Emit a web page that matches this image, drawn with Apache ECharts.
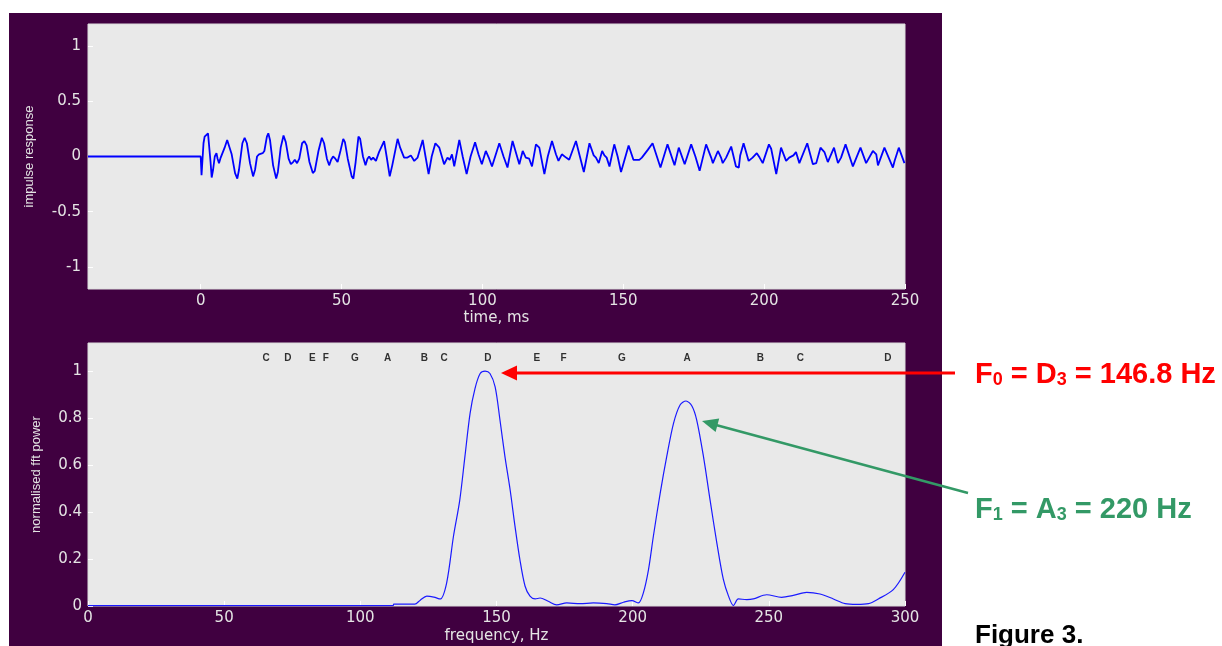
<!DOCTYPE html>
<html>
<head>
<meta charset="utf-8">
<script src="https://cdn.jsdelivr.net/npm/echarts@6/dist/echarts.min.js"></script>
<style>
  html, body { margin: 0; padding: 0; background: #ffffff; }
  #bg { position: absolute; left: 9px; top: 13px; width: 933px; height: 633px; background: #400040; }
  #chart { position: absolute; left: 0; top: 0; width: 1222px; height: 646px; }
</style>
</head>
<body>
<div id="bg"></div>
<div id="chart"></div>
<script>
// ---- Top panel: impulse response (time in ms) ----
const timeMs = [
  -40, 0, 0.3, 0.5, 1.0, 1.4, 2.0, 2.6, 3.0, 3.5,
  3.9, 4.4, 5.0, 5.6, 6.0, 6.5, 7.1, 7.5, 8.5, 9.4,
  9.9, 11.0, 12.2, 13.0, 13.6, 14.8, 15.6, 16.4, 17.5, 18.6,
  19.3, 20.0, 20.7, 21.3, 22.0, 22.6, 23.5, 24.0, 24.6, 25.7,
  26.8, 27.4, 28.4, 29.4, 30.2, 31.2, 32.0, 32.8, 33.4, 34.2,
  35.0, 36.0, 36.8, 37.6, 38.6, 39.8, 40.5, 41.8, 43.0, 43.8,
  44.8, 45.6, 46.3, 47.0, 47.8, 48.6, 49.6, 50.6, 51.2, 52.2,
  53.6, 54.2, 55.0, 56.0, 56.6, 57.6, 58.5, 59.2, 59.8, 60.5,
  61.2, 62.2, 63.3, 65.1, 66.0, 67.1, 68.0, 69.9, 70.8, 72.2,
  73.4, 74.6, 75.8, 77.0, 78.8, 79.8, 80.9, 82.0, 83.3, 84.7,
  86.4, 87.6, 88.4, 89.2, 90.0, 91.8, 93.0, 94.4, 95.8, 97.4,
  98.6, 99.8, 101.2, 102.4, 103.4, 106.0, 107.5, 108.9, 110.7, 113.1,
  114.3, 115.4, 116.6, 117.6, 119.0, 120.2, 122.0, 123.2, 124.7, 126.1,
  127.0, 128.2, 129.7, 130.8, 133.2, 134.6, 136.0, 138.0, 139.5, 140.3,
  141.3, 142.5, 143.3, 144.1, 145.1, 146.8, 148.0, 149.2, 151.9, 153.6,
  155.7, 156.6, 158.7, 160.4, 163.2, 165.7, 168.2, 169.7, 171.8, 174.1,
  175.6, 177.1, 179.4, 181.2, 181.8, 183.6, 184.7, 185.3, 186.5, 188.3,
  190.0, 191.0, 191.5, 192.7, 194.5, 195.9, 197.4, 198.4, 199.5, 201.7,
  202.5, 204.3, 206.0, 207.8, 208.9, 210.4, 211.3, 212.5, 215.3, 217.3,
  218.5, 220.0, 221.4, 222.6, 224.8, 226.2, 227.3, 228.9, 231.5, 234.2,
  236.2, 238.6, 239.8, 240.4, 242.7, 245.7, 246.3, 247.8, 249.8, 250.0
];
const impulse = [
  0, 0, -0.17, -0.17, 0.12, 0.18, 0.19, 0.21, 0.2, -0.05,
  -0.19, -0.12, 0.0, 0.03, -0.02, -0.06, -0.01, -0.02, 0.08, 0.15,
  0.14, 0.02, -0.15, -0.2, -0.12, 0.12, 0.17, 0.12, -0.06, -0.18,
  -0.12, 0.0, 0.02, 0.01, 0.03, 0.05, 0.18, 0.21, 0.15, -0.08,
  -0.2, -0.14, 0.08, 0.19, 0.13, -0.02, -0.07, -0.05, -0.03, -0.06,
  -0.02, 0.12, 0.14, 0.1, -0.05, -0.15, -0.13, 0.05, 0.17, 0.12,
  -0.02, -0.08, -0.03, 0.0, -0.02, -0.05, 0.05, 0.16, 0.13, -0.02,
  -0.18, -0.2, -0.05, 0.18, 0.16, 0.0, -0.08, -0.02, 0.0, -0.03,
  -0.01, -0.04, 0.04, 0.14, 0.0, -0.18, -0.08, 0.16, 0.08, -0.01,
  -0.01, 0.01, -0.04, -0.01, 0.15, 0.0, -0.16, 0.0, 0.12, 0.08,
  -0.07, -0.01, -0.03, 0.02, -0.09, 0.15, 0.0, -0.16, 0.0, 0.13,
  0.02, -0.07, 0.05, -0.02, -0.09, 0.12, 0.0, -0.1, 0.14, -0.07,
  0.05, -0.01, -0.02, -0.09, 0.11, 0.08, -0.16, 0.0, 0.14, 0.02,
  -0.04, 0.02, -0.01, -0.03, 0.14, 0.0, -0.14, 0.12, 0.01, -0.01,
  -0.06, 0.05, 0.01, -0.01, -0.09, 0.11, 0.0, -0.14, 0.1, -0.03,
  -0.03, -0.01, 0.06, 0.12, -0.1, 0.11, -0.08, 0.08, -0.07, 0.11,
  0.0, -0.13, 0.11, -0.01, -0.06, 0.05, -0.01, -0.06, -0.01, 0.09,
  -0.09, -0.1, 0.01, 0.12, -0.04, -0.01, 0.03, -0.01, -0.06, 0.11,
  0.07, -0.16, 0.08, -0.04, -0.01, 0.01, 0.04, -0.06, 0.12, -0.07,
  -0.06, 0.08, 0.04, -0.05, 0.08, -0.06, -0.01, 0.11, -0.09, 0.08,
  -0.06, 0.05, 0.02, -0.08, 0.08, -0.1, -0.04, 0.08, -0.06, -0.06
];
const timeTicks = [0, 50, 100, 150, 200, 250];
const impulseTicks = [-1, -0.5, 0, 0.5, 1];

// ---- Bottom panel: normalised FFT power ----
const freqHz = [
  0, 112, 112.3, 120, 122, 124.4, 127, 129.3, 131.7, 134.2,
  136.5, 138.4, 140.3, 142.1, 144, 145.8, 147.6, 149.5, 151.3, 153.1,
  155, 156.8, 158.6, 160.5, 162.3, 164.2, 166, 169, 172.1, 175.8,
  180.7, 185.6, 190.5, 193.5, 196.6, 199.7, 202.1, 203.9, 205.8, 207.6,
  210.1, 212.5, 215, 217.4, 219.6, 221.7, 223.5, 226, 228.4, 230.9,
  233.3, 235.2, 237, 238.8, 241.9, 244.3, 249.2, 254.7, 259, 263.9,
  268.8, 273.7, 278, 282.3, 286.6, 290.2, 295.7, 300
];
const fftPower = [
  0.002, 0.002, 0.008, 0.008, 0.025, 0.042, 0.038, 0.03, 0.099, 0.297,
  0.45, 0.636, 0.82, 0.926, 0.99, 1.0, 0.99, 0.933, 0.79, 0.636,
  0.495, 0.339, 0.197, 0.084, 0.042, 0.03, 0.034, 0.02, 0.005, 0.013,
  0.01, 0.013, 0.01, 0.005, 0.016, 0.023, 0.013, 0.055, 0.154, 0.297,
  0.48, 0.636, 0.778, 0.856, 0.873, 0.853, 0.793, 0.636, 0.453, 0.269,
  0.113, 0.042, 0.002, 0.03, 0.027, 0.03, 0.048, 0.037, 0.045, 0.058,
  0.051, 0.03, 0.01, 0.007, 0.01, 0.03, 0.07, 0.144
];
const powerTicks = [0, 0.2, 0.4, 0.6, 0.8, 1];
const noteNames = ['C','D','E','F','G','A','B','C','D','E','F','G','A','B','C','D'];
const noteFreqs = [65.4, 73.4, 82.4, 87.3, 98.0, 110.0, 123.5, 130.8, 146.8, 164.8, 174.6, 196.0, 220.0, 246.9, 261.6, 293.7];
const noteRow = 1.053;

const chart = echarts.init(document.getElementById('chart'), null, { renderer: 'canvas' });

const tickColor = '#e4e4e4';
const tickFont = { color: tickColor, fontFamily: 'DejaVu Sans', fontSize: 15 };
const yNameFont = { color: tickColor, fontFamily: 'Liberation Sans', fontSize: 13 };
const xNameFont = { color: tickColor, fontFamily: 'DejaVu Sans', fontSize: 15 };
const tickStyle = { show: true, inside: true, length: 5, lineStyle: { color: '#ffffff', width: 1 } };
const noLine = { show: false, onZero: false };

const option = {
  animation: false,
  backgroundColor: 'transparent',
  grid: [
    { left: 88, top: 24, width: 817, height: 265, show: true, backgroundColor: '#e9e9e9', borderColor: '#dcdcdc', borderWidth: 1 },
    { left: 88, top: 343, width: 817, height: 263, show: true, backgroundColor: '#e9e9e9', borderColor: '#dcdcdc', borderWidth: 1 }
  ],
  xAxis: [
    {
      type: 'value', gridIndex: 0, min: -40, max: 250, position: 'bottom',
      name: 'time, ms', nameLocation: 'middle', nameGap: 22, nameTextStyle: xNameFont,
      axisLine: noLine, splitLine: { show: false },
      axisTick: Object.assign({}, tickStyle, { customValues: timeTicks }),
      axisLabel: Object.assign({}, tickFont, { margin: 5, customValues: timeTicks })
    },
    {
      type: 'value', gridIndex: 1, min: 0, max: 300, interval: 50, position: 'bottom',
      name: 'frequency, Hz', nameLocation: 'middle', nameGap: 23, nameTextStyle: xNameFont,
      axisLine: noLine, splitLine: { show: false },
      axisTick: tickStyle,
      axisLabel: Object.assign({}, tickFont, { margin: 5 })
    }
  ],
  yAxis: [
    {
      type: 'value', gridIndex: 0, min: -1.2, max: 1.2, position: 'left',
      name: 'impulse response', nameLocation: 'middle', nameGap: 52, nameTextStyle: yNameFont,
      axisLine: noLine, splitLine: { show: false },
      axisTick: Object.assign({}, tickStyle, { customValues: impulseTicks }),
      axisLabel: Object.assign({}, tickFont, { margin: 7, customValues: impulseTicks, formatter: v => String(v) })
    },
    {
      type: 'value', gridIndex: 1, min: 0, max: 1.12, position: 'left',
      name: 'normalised fft power', nameLocation: 'middle', nameGap: 45, nameTextStyle: yNameFont,
      axisLine: noLine, splitLine: { show: false },
      axisTick: Object.assign({}, tickStyle, { customValues: powerTicks }),
      axisLabel: Object.assign({}, tickFont, { margin: 6, customValues: powerTicks, formatter: v => String(v) })
    }
  ],
  series: [
    {
      type: 'line', xAxisIndex: 0, yAxisIndex: 0,
      data: timeMs.map((t, i) => [t, impulse[i]]),
      showSymbol: false, symbol: 'none',
      lineStyle: { color: '#0000ff', width: 1.8 },
      clip: true
    },
    {
      type: 'line', xAxisIndex: 1, yAxisIndex: 1,
      data: freqHz.map((f, i) => [f, fftPower[i]]),
      showSymbol: false, symbol: 'none', smooth: 0.3,
      lineStyle: { color: '#1a1aff', width: 1.2 },
      clip: true
    },
    {
      type: 'scatter', xAxisIndex: 1, yAxisIndex: 1,
      data: noteFreqs.map((f, i) => ({ value: [f, noteRow], name: noteNames[i] })),
      symbolSize: 1, itemStyle: { color: 'rgba(0,0,0,0)' },
      label: {
        show: true, position: 'inside', formatter: p => p.name,
        color: '#000000', fontFamily: 'Liberation Sans', fontWeight: 'bold', fontSize: 10
      },
      silent: true
    }
  ],
  graphic: [
    // red arrow
    { type: 'line', z: 100, shape: { x1: 515, y1: 373, x2: 955, y2: 373 }, style: { stroke: '#ff0000', lineWidth: 3 } },
    { type: 'polygon', z: 100, shape: { points: [[501, 373], [517, 365.5], [517, 380.5]] }, style: { fill: '#ff0000' } },
    // green arrow
    { type: 'line', z: 100, shape: { x1: 716, y1: 425, x2: 968, y2: 493 }, style: { stroke: '#339966', lineWidth: 2.5 } },
    { type: 'polygon', z: 100, shape: { points: [[702, 421], [715.6, 432.0], [719.2, 418.4]] }, style: { fill: '#339966' } },
    // annotation texts
    {
      type: 'text', z: 100,
      style: {
        x: 975, y: 375, verticalAlign: 'middle',
        text: '{a|F}{s|0}{a| = D}{s|3}{a| = 146.8 Hz}',
        rich: {
          a: { fontFamily: 'Liberation Sans', fontWeight: 'bold', fontSize: 29, fill: '#ff0000', lineHeight: 28 },
          s: { fontFamily: 'Liberation Sans', fontWeight: 'bold', fontSize: 18, fill: '#ff0000', lineHeight: 6, verticalAlign: 'bottom' }
        }
      }
    },
    {
      type: 'text', z: 100,
      style: {
        x: 975, y: 510, verticalAlign: 'middle',
        text: '{a|F}{s|1}{a| = A}{s|3}{a| = 220 Hz}',
        rich: {
          a: { fontFamily: 'Liberation Sans', fontWeight: 'bold', fontSize: 29, fill: '#339966', lineHeight: 28 },
          s: { fontFamily: 'Liberation Sans', fontWeight: 'bold', fontSize: 18, fill: '#339966', lineHeight: 6, verticalAlign: 'bottom' }
        }
      }
    },
    {
      type: 'text', z: 100,
      style: {
        x: 975, y: 636, verticalAlign: 'middle',
        text: 'Figure 3.', fontFamily: 'Liberation Sans', fontWeight: 'bold', fontSize: 26, fill: '#000000'
      }
    }
  ]
};
chart.setOption(option);
</script>
</body>
</html>
